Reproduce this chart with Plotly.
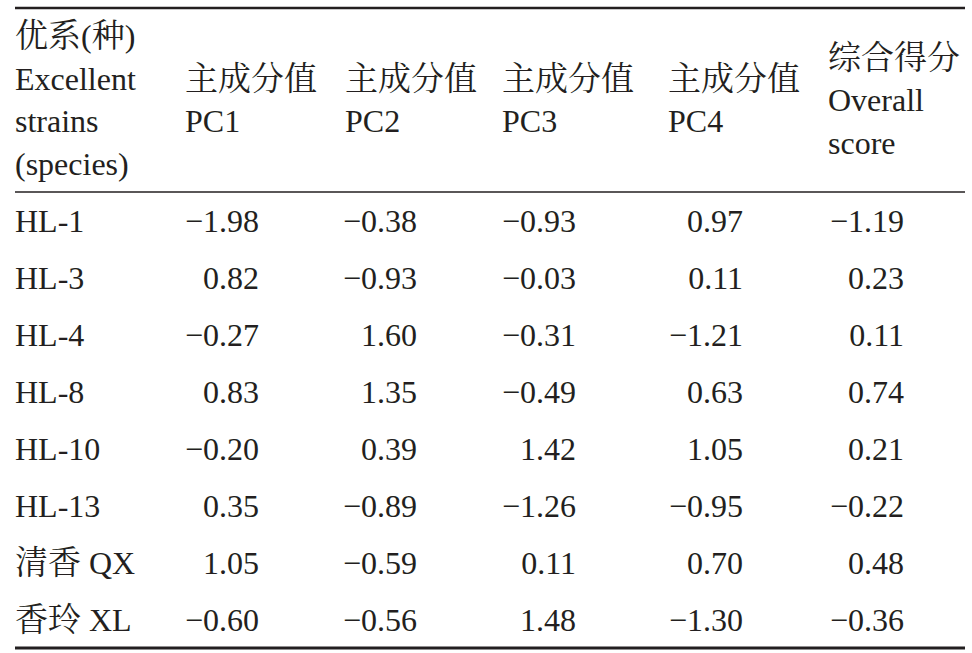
import plotly.graph_objects as go

# ---- data ----
strains = ["HL-1", "HL-3", "HL-4", "HL-8", "HL-10", "HL-13", "清香 QX", "香玲 XL"]
pc1 = [-1.98, 0.82, -0.27, 0.83, -0.20, 0.35, 1.05, -0.60]
pc2 = [-0.38, -0.93, 1.60, 1.35, 0.39, -0.89, -0.59, -0.56]
pc3 = [-0.93, -0.03, -0.31, -0.49, 1.42, -1.26, 0.11, 1.48]
pc4 = [0.97, 0.11, -1.21, 0.63, 1.05, -0.95, 0.70, -1.30]
overall = [-1.19, 0.23, 0.11, 0.74, 0.21, -0.22, 0.48, -0.36]

header_first = ["优系(种)", "Excellent", "strains", "(species)"]
header_pc = [["主成分值", "PC1"], ["主成分值", "PC2"], ["主成分值", "PC3"], ["主成分值", "PC4"]]
header_overall = ["综合得分", "Overall", "score"]

# ---- layout constants (pixels) ----
W, H = 972, 653
FONT = "Liberation Serif, Times New Roman, Noto Serif CJK SC, Noto Sans CJK SC, serif"
FS = 32
FS_CJK = 33
COLOR = "#231f20"
left_x = 15
pc_left = [185, 345, 502, 668]
pc_right = [259, 417, 576, 743]
ov_left = 828
ov_right = 904
row_top = 192
row_h = 57.0
text_dy = 3
hdr_mid = 100 + text_dy
line_h = 42.5

def fmt(v):
    s = f"{abs(v):.2f}"
    return ("\u2212" + s) if v < 0 else s

def styled(s):
    # enlarge CJK characters slightly, like the reference's Song face
    out = ""
    for c in s:
        if ord(c) > 0x2E80:
            out += f'<span style="font-size:{FS_CJK}px">{c}</span>'
        else:
            out += c
    return out

fig = go.Figure()
row_y = [row_top + row_h * (i + 0.5) + text_dy for i in range(len(strains))]

# first column
fig.add_trace(go.Scatter(x=[left_x] * len(strains), y=row_y, mode="text",
                         text=[styled(s) for s in strains],
                         textposition="middle right",
                         textfont=dict(family=FONT, size=FS, color=COLOR), hoverinfo="skip"))

for vals, xr in zip([pc1, pc2, pc3, pc4, overall], pc_right + [ov_right]):
    fig.add_trace(go.Scatter(x=[xr] * len(vals), y=row_y, mode="text",
                             text=[fmt(v) for v in vals], textposition="middle left",
                             textfont=dict(family=FONT, size=FS, color=COLOR), hoverinfo="skip"))

def header(lines, x):
    n = len(lines)
    ys = [hdr_mid + (k - (n - 1) / 2) * line_h for k in range(n)]
    fig.add_trace(go.Scatter(x=[x] * n, y=ys, mode="text", text=[styled(s) for s in lines],
                             textposition="middle right",
                             textfont=dict(family=FONT, size=FS, color=COLOR), hoverinfo="skip"))

header(header_first, left_x)
for lines, xl in zip(header_pc, pc_left):
    header(lines, xl)
header(header_overall, ov_left)

# rules
for y, w in [(8, 2.6), (192, 1.6), (648, 3.0)]:
    fig.add_shape(type="line", x0=15, x1=965, y0=y, y1=y, xref="x", yref="y",
                  line=dict(color=COLOR, width=w))

fig.update_layout(width=W, height=H, margin=dict(l=0, r=0, t=0, b=0),
                  paper_bgcolor="white", plot_bgcolor="white", showlegend=False,
                  xaxis=dict(range=[0, W], visible=False, fixedrange=True),
                  yaxis=dict(range=[H, 0], visible=False, fixedrange=True))

fig.write_html("out.html", config={"displayModeBar": False},
               post_script="document.body.style.margin='0';document.body.style.overflow='hidden';")
